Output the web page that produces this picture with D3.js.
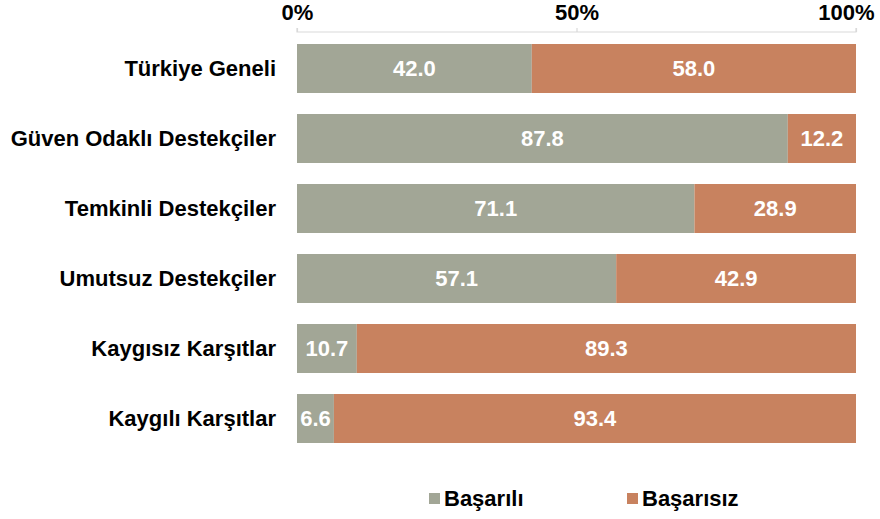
<!DOCTYPE html>
<html>
<head>
<meta charset="utf-8">
<script src="https://cdn.jsdelivr.net/npm/d3@7"></script>
<style>
  html, body { margin: 0; padding: 0; background: #fff; }
  svg { display: block; font-family: "Liberation Sans", Arial, sans-serif; }
</style>
</head>
<body>
<svg id="chart" width="880" height="519"></svg>
<script>
// Segment groups and their shares (percent)
const categories = [
  "Türkiye Geneli",
  "Güven Odaklı Destekçiler",
  "Temkinli Destekçiler",
  "Umutsuz Destekçiler",
  "Kaygısız Karşıtlar",
  "Kaygılı Karşıtlar"
];
const basarili = [42.0, 87.8, 71.1, 57.1, 10.7, 6.6];
const basarisiz = [58.0, 12.2, 28.9, 42.9, 89.3, 93.4];
const seriesNames = ["Başarılı", "Başarısız"];
const tickValues = [0, 50, 100];

const colors = ["#A2A696", "#C8825F"];
const fontSize = 22;

const svg = d3.select("#chart");
const margin = { top: 44, left: 297, right: 24 };
const width = 880;

const x = d3.scaleLinear().domain([0, 100]).range([margin.left, width - margin.right]);
const y = d3.scaleBand().domain(categories).range([margin.top - 10.5, margin.top - 10.5 + 70 * categories.length]).paddingInner(0.3).paddingOuter(0.15);

// Top percentage axis
const axis = d3.axisTop(x).tickValues(tickValues).tickFormat(d => d + "%").tickSize(4).tickPadding(8);
const axisG = svg.append("g").attr("transform", "translate(0,32)").call(axis);
axisG.select(".domain").attr("stroke", "#d9d9d9").attr("stroke-width", 1.2).attr("d", `M${x(0)},-4V0H${x(100)}V-4`);
axisG.selectAll(".tick line").attr("stroke", "#d9d9d9").attr("stroke-width", 1.2);
axisG.selectAll(".tick text")
  .attr("font-size", fontSize).attr("font-weight", "bold").attr("fill", "#000")
  .attr("font-family", "Liberation Sans, Arial, sans-serif");
// keep the last tick label inside the canvas
axisG.selectAll(".tick text").filter(d => d === 100)
  .attr("text-anchor", "end").attr("x", width - 6 - x(100));

// Stacked rows
const rows = categories.map((c, i) => ({ c, vals: [basarili[i], basarisiz[i]] }));

const rowG = svg.append("g").selectAll("g").data(rows).join("g");

rowG.each(function (d) {
  const g = d3.select(this);
  let start = 0;
  d.vals.forEach((v, k) => {
    const x0 = x(start), x1 = x(start + v);
    g.append("rect")
      .attr("x", x0).attr("y", y(d.c))
      .attr("width", x1 - x0).attr("height", y.bandwidth())
      .attr("fill", colors[k]);
    g.append("text")
      .attr("x", (x0 + x1) / 2).attr("y", y(d.c) + y.bandwidth() / 2)
      .attr("dy", "0.36em").attr("text-anchor", "middle")
      .attr("font-size", fontSize).attr("font-weight", "bold").attr("fill", "#fff")
      .text(v.toFixed(1));
    start += v;
  });
  g.append("text")
    .attr("x", 276).attr("y", y(d.c) + y.bandwidth() / 2)
    .attr("dy", "0.36em").attr("text-anchor", "end")
    .attr("font-size", fontSize).attr("font-weight", "bold").attr("fill", "#000")
    .text(d.c);
});

// Legend
const legendX = [429, 627];
const legend = svg.append("g").selectAll("g").data(seriesNames).join("g")
  .attr("transform", (d, i) => `translate(${legendX[i]},498)`);
legend.append("rect").attr("x", 0).attr("y", -5).attr("width", 11).attr("height", 11)
  .attr("fill", (d, i) => colors[i]);
legend.append("text").attr("x", 15).attr("dy", "0.36em")
  .attr("font-size", fontSize).attr("font-weight", "bold").attr("fill", "#000")
  .text(d => d);
</script>
</body>
</html>
